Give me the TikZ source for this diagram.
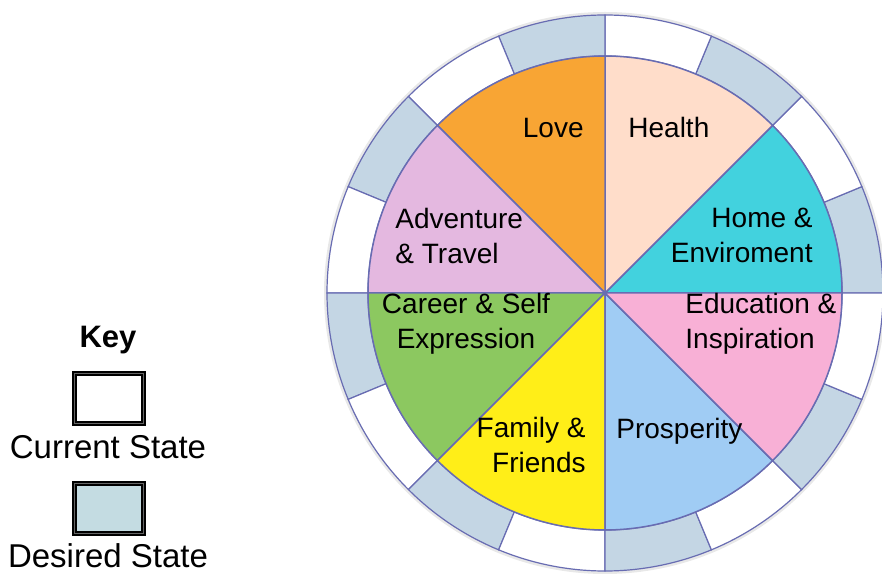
\documentclass[tikz,border=0pt]{standalone}
\usepackage{fontspec}
\setmainfont{Liberation Sans}
\usepackage{xcolor}
\usepackage{tikz}
\usetikzlibrary{positioning, calc}
\definecolor{lovecolor}{RGB}{248, 165, 52}
\definecolor{healthcolor}{RGB}{255, 221, 202}
\definecolor{homecolor}{RGB}{66, 210, 222}
\definecolor{educolor}{RGB}{248, 176, 214}
\definecolor{prospcolor}{RGB}{160, 204, 244}
\definecolor{familycolor}{RGB}{255, 238, 24}
\definecolor{careercolor}{RGB}{140, 200, 96}
\definecolor{advcolor}{RGB}{228, 184, 224}
\definecolor{ringblue}{RGB}{196, 214, 228}
\definecolor{keyblue}{RGB}{196, 220, 226}
\definecolor{rimline}{RGB}{104, 108, 178}
\newcommand{\pieradius}{237}
\newcommand{\ringradius}{278}
\tikzset{
    wheellabel/.style={
        font=\fontsize{14}{17.5}\selectfont, inner sep=0pt
    },
    keylabel/.style={
        font=\fontsize{16.5}{20}\selectfont, inner sep=0pt
    },
    keybox/.style={
        draw=black, double=gray!80!black, double distance=0.35pt, line width=1pt,
        minimum width=34.7pt, minimum height=25.2pt, inner sep=0pt
    }
}

\begin{document}
\begin{tikzpicture}[
        x=0.5pt, y=0.5pt,
        % Style cho vòng ngoài và các múi
        ringseg/.style={draw=rimline, line width=0.6pt},
        pieseg/.style={draw=rimline, line width=0.75pt}
    ]
    \useasboundingbox (0,0) rectangle (882,573);

    % ======================================
    % BÁNH XE
    % ======================================
    \begin{scope}[shift={(605,280)}]
        % bóng mờ quanh vành
        \fill[gray!18] (0,0) circle[radius=\ringradius+3];

        % vành ngoài: 16 ô xen kẽ xanh / trắng
        \foreach \a in {0,45,...,315} {
            \filldraw[ringseg, fill=ringblue] (\a:\pieradius) -- (\a:\ringradius)
                arc[start angle=\a, delta angle=22.5, radius=\ringradius]
                -- ({\a+22.5}:\pieradius)
                arc[start angle=\a+22.5, delta angle=-22.5, radius=\pieradius] -- cycle;
            \filldraw[ringseg, fill=white] ({\a+22.5}:\pieradius) -- ({\a+22.5}:\ringradius)
                arc[start angle=\a+22.5, delta angle=22.5, radius=\ringradius]
                -- ({\a+45}:\pieradius)
                arc[start angle=\a+45, delta angle=-22.5, radius=\pieradius] -- cycle;
        }

        % 8 múi bên trong
        \foreach \a/\col in {0/homecolor, 45/healthcolor, 90/lovecolor, 135/advcolor,
                             180/careercolor, 225/familycolor, 270/prospcolor, 315/educolor} {
            \filldraw[pieseg, fill=\col] (0,0) -- (\a:\pieradius)
                arc[start angle=\a, delta angle=45, radius=\pieradius] -- cycle;
        }
    \end{scope}

    % nhãn các múi
    \node[wheellabel, anchor=base east] (love) at (584,435) {Love};
    \node[wheellabel, anchor=base west] (health) at (628,435) {Health};
    \node[wheellabel, anchor=east, align=right] (home) at (813,337.5) {Home \&\\Enviroment};
    \node[wheellabel, anchor=west, align=left] (adventure) at (395,337.5) {Adventure\\\& Travel};
    \node[wheellabel, align=center] (career) at (466,249.5) {Career \& Self\\Expression};
    \node[wheellabel, anchor=west, align=left] (education) at (685,249.5) {Education \&\\Inspiration};
    \node[wheellabel, anchor=east, align=right] (family) at (586,128) {Family \&\\Friends};
    \node[wheellabel, anchor=base west] (prosperity) at (616,135) {Prosperity};

    % ======================================
    % CHÚ THÍCH
    % ======================================
    \node[keylabel, font=\fontsize{15.5}{19}\bfseries, anchor=base] (keytitle) at (108,226) {Key};
    \node[keybox, fill=white] (currentbox) at (109,174.5) {};
    \node[keylabel, anchor=base] (currenttext) at (108,115) {Current State};
    \node[keybox, fill=keyblue] (desiredbox) at (109,64.5) {};
    \node[keylabel, anchor=base] (desiredtext) at (108,6) {Desired State};

\end{tikzpicture}
\end{document}
